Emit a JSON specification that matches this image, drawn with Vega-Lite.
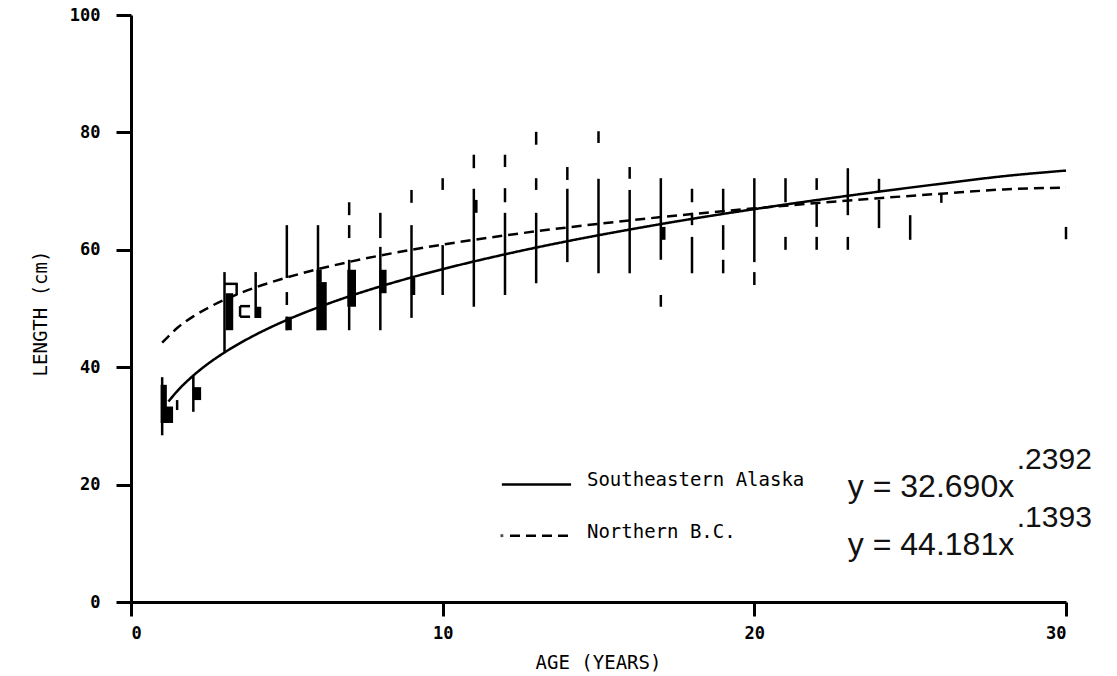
{
  "$schema": "https://vega.github.io/schema/vega-lite/v6.json",
  "width": 935,
  "height": 587,
  "autosize": "none",
  "padding": {"left": 131, "top": 15, "right": 51, "bottom": 74},
  "background": "white",
  "config": {
    "view": {"stroke": null},
    "axis": {
      "domainColor": "black",
      "domainWidth": 3,
      "tickColor": "black",
      "tickWidth": 3,
      "grid": false,
      "labelFont": "DejaVu Sans Mono",
      "labelFontWeight": "bold",
      "labelFontSize": 17,
      "labelColor": "black",
      "titleFont": "DejaVu Sans Mono",
      "titleFontWeight": "normal",
      "titleFontSize": 19,
      "titleColor": "black"
    }
  },
  "datasets": {
    "seg": [
      {"age": 1, "lo": 28.4, "hi": 38.3},
      {"age": 1.48, "lo": 32.7, "hi": 34.4},
      {"age": 2, "lo": 32.4, "hi": 38.5},
      {"age": 3, "lo": 42.6, "hi": 56.2},
      {"age": 3.39, "lo": 52.3, "hi": 54.3},
      {"age": 3.5, "lo": 48.6, "hi": 50.4},
      {"age": 4, "lo": 48.4, "hi": 56.2},
      {"age": 5, "lo": 55.2, "hi": 64.2},
      {"age": 5, "lo": 50.6, "hi": 52.8},
      {"age": 5, "lo": 46.3, "hi": 48.6},
      {"age": 6, "lo": 46.3, "hi": 64.2},
      {"age": 7, "lo": 65.9, "hi": 68.1},
      {"age": 7, "lo": 62.0, "hi": 64.2},
      {"age": 7, "lo": 46.3, "hi": 58.3},
      {"age": 8, "lo": 62.0, "hi": 66.3},
      {"age": 8, "lo": 46.3, "hi": 60.5},
      {"age": 9, "lo": 68.0, "hi": 70.2},
      {"age": 9, "lo": 48.4, "hi": 64.2},
      {"age": 10, "lo": 70.2, "hi": 72.2},
      {"age": 10, "lo": 52.3, "hi": 60.8},
      {"age": 11, "lo": 73.9, "hi": 76.2},
      {"age": 11, "lo": 50.3, "hi": 70.4},
      {"age": 12, "lo": 74.1, "hi": 76.2},
      {"age": 12, "lo": 68.1, "hi": 70.5},
      {"age": 12, "lo": 52.3, "hi": 66.3},
      {"age": 13, "lo": 77.9, "hi": 80.1},
      {"age": 13, "lo": 70.2, "hi": 72.2},
      {"age": 13, "lo": 54.3, "hi": 66.3},
      {"age": 14, "lo": 71.9, "hi": 74.1},
      {"age": 14, "lo": 57.9, "hi": 70.4},
      {"age": 15, "lo": 78.2, "hi": 80.2},
      {"age": 15, "lo": 56.0, "hi": 72.1},
      {"age": 16, "lo": 72.1, "hi": 74.1},
      {"age": 16, "lo": 56.0, "hi": 70.2},
      {"age": 17, "lo": 58.3, "hi": 72.2},
      {"age": 17, "lo": 50.3, "hi": 52.3},
      {"age": 18, "lo": 68.1, "hi": 70.4},
      {"age": 18, "lo": 64.2, "hi": 66.3},
      {"age": 18, "lo": 56.0, "hi": 62.2},
      {"age": 19, "lo": 66.3, "hi": 70.4},
      {"age": 19, "lo": 60.0, "hi": 64.2},
      {"age": 19, "lo": 56.0, "hi": 58.3},
      {"age": 20, "lo": 57.9, "hi": 72.2},
      {"age": 20, "lo": 54.0, "hi": 56.2},
      {"age": 21, "lo": 68.1, "hi": 72.2},
      {"age": 21, "lo": 60.0, "hi": 62.2},
      {"age": 22, "lo": 70.2, "hi": 72.2},
      {"age": 22, "lo": 63.9, "hi": 68.1},
      {"age": 22, "lo": 60.0, "hi": 62.2},
      {"age": 23, "lo": 65.9, "hi": 73.9},
      {"age": 23, "lo": 60.0, "hi": 62.2},
      {"age": 24, "lo": 69.8, "hi": 72.1},
      {"age": 24, "lo": 63.7, "hi": 68.5},
      {"age": 25, "lo": 61.7, "hi": 65.9},
      {"age": 26, "lo": 68.0, "hi": 69.7},
      {"age": 30, "lo": 61.8, "hi": 63.9}
    ],
    "hseg": [
      {"x1": 3.0, "x2": 3.42, "y": 54.2},
      {"x1": 3.5, "x2": 3.82, "y": 50.4},
      {"x1": 3.5, "x2": 3.82, "y": 48.6}
    ],
    "blob": [
      {"x1": 0.95, "x2": 1.15, "lo": 30.5, "hi": 37.0},
      {"x1": 1.1, "x2": 1.35, "lo": 30.5, "hi": 33.3},
      {"x1": 1.98, "x2": 2.25, "lo": 34.4, "hi": 36.6},
      {"x1": 3.04, "x2": 3.28, "lo": 46.3, "hi": 52.6},
      {"x1": 3.98, "x2": 4.18, "lo": 48.4, "hi": 50.3},
      {"x1": 4.96, "x2": 5.16, "lo": 46.3, "hi": 48.6},
      {"x1": 5.95, "x2": 6.28, "lo": 46.3, "hi": 54.5},
      {"x1": 5.95, "x2": 6.12, "lo": 54.5, "hi": 56.6},
      {"x1": 6.94, "x2": 7.22, "lo": 50.3, "hi": 56.6},
      {"x1": 7.97, "x2": 8.2, "lo": 52.6, "hi": 56.6},
      {"x1": 8.98, "x2": 9.12, "lo": 52.3, "hi": 55.2},
      {"x1": 11.0, "x2": 11.12, "lo": 66.3, "hi": 68.5},
      {"x1": 17.0, "x2": 17.15, "lo": 61.7, "hi": 63.9}
    ],
    "curve": [
      {"series": "Southeastern Alaska", "style": "solid", "age": 1.2, "len": 34.15},
      {"series": "Southeastern Alaska", "style": "solid", "age": 1.5, "len": 36.02},
      {"series": "Southeastern Alaska", "style": "solid", "age": 2, "len": 38.58},
      {"series": "Southeastern Alaska", "style": "solid", "age": 2.5, "len": 40.70},
      {"series": "Southeastern Alaska", "style": "solid", "age": 3, "len": 42.51},
      {"series": "Southeastern Alaska", "style": "solid", "age": 4, "len": 45.54},
      {"series": "Southeastern Alaska", "style": "solid", "age": 5, "len": 48.04},
      {"series": "Southeastern Alaska", "style": "solid", "age": 6, "len": 50.18},
      {"series": "Southeastern Alaska", "style": "solid", "age": 7, "len": 52.07},
      {"series": "Southeastern Alaska", "style": "solid", "age": 8, "len": 53.76},
      {"series": "Southeastern Alaska", "style": "solid", "age": 9, "len": 55.29},
      {"series": "Southeastern Alaska", "style": "solid", "age": 10, "len": 56.70},
      {"series": "Southeastern Alaska", "style": "solid", "age": 12, "len": 59.23},
      {"series": "Southeastern Alaska", "style": "solid", "age": 14, "len": 61.46},
      {"series": "Southeastern Alaska", "style": "solid", "age": 16, "len": 63.45},
      {"series": "Southeastern Alaska", "style": "solid", "age": 18, "len": 65.27},
      {"series": "Southeastern Alaska", "style": "solid", "age": 20, "len": 66.93},
      {"series": "Southeastern Alaska", "style": "solid", "age": 22, "len": 68.47},
      {"series": "Southeastern Alaska", "style": "solid", "age": 24, "len": 69.91},
      {"series": "Southeastern Alaska", "style": "solid", "age": 26, "len": 71.26},
      {"series": "Southeastern Alaska", "style": "solid", "age": 28, "len": 72.54},
      {"series": "Southeastern Alaska", "style": "solid", "age": 30, "len": 73.5},
      {"series": "Northern B.C.", "style": "dashed", "age": 1, "len": 44.18},
      {"series": "Northern B.C.", "style": "dashed", "age": 1.5, "len": 46.75},
      {"series": "Northern B.C.", "style": "dashed", "age": 2, "len": 48.66},
      {"series": "Northern B.C.", "style": "dashed", "age": 2.5, "len": 50.19},
      {"series": "Northern B.C.", "style": "dashed", "age": 3, "len": 51.49},
      {"series": "Northern B.C.", "style": "dashed", "age": 4, "len": 53.59},
      {"series": "Northern B.C.", "style": "dashed", "age": 5, "len": 55.28},
      {"series": "Northern B.C.", "style": "dashed", "age": 6, "len": 56.71},
      {"series": "Northern B.C.", "style": "dashed", "age": 7, "len": 57.94},
      {"series": "Northern B.C.", "style": "dashed", "age": 8, "len": 59.03},
      {"series": "Northern B.C.", "style": "dashed", "age": 9, "len": 60.00},
      {"series": "Northern B.C.", "style": "dashed", "age": 10, "len": 60.89},
      {"series": "Northern B.C.", "style": "dashed", "age": 12, "len": 62.45},
      {"series": "Northern B.C.", "style": "dashed", "age": 14, "len": 63.81},
      {"series": "Northern B.C.", "style": "dashed", "age": 16, "len": 65.01},
      {"series": "Northern B.C.", "style": "dashed", "age": 18, "len": 66.09},
      {"series": "Northern B.C.", "style": "dashed", "age": 20, "len": 67.06},
      {"series": "Northern B.C.", "style": "dashed", "age": 22, "len": 67.96},
      {"series": "Northern B.C.", "style": "dashed", "age": 24, "len": 68.79},
      {"series": "Northern B.C.", "style": "dashed", "age": 26, "len": 69.56},
      {"series": "Northern B.C.", "style": "dashed", "age": 28, "len": 70.28},
      {"series": "Northern B.C.", "style": "dashed", "age": 30, "len": 70.6}
    ],
    "keyline": [
      {"style": "solid", "x1": 11.9, "x2": 14.12, "y": 20.0},
      {"style": "dashed", "x1": 12.16, "x2": 14.12, "y": 11.3}
    ],
    "keydot": [
      {"x": 11.9, "y": 11.3}
    ],
    "keytext": [
      {"x": 14.63, "y": 20.7, "text": "Southeastern Alaska"},
      {"x": 14.63, "y": 12.0, "text": "Northern B.C."}
    ],
    "eqmain": [
      {"x": 23.0, "y": 17.9, "text": "y = 32.690x"},
      {"x": 23.0, "y": 8.0, "text": "y = 44.181x"}
    ],
    "eqsup": [
      {"x": 28.42, "y": 22.7, "text": ".2392"},
      {"x": 28.42, "y": 12.8, "text": ".1393"}
    ]
  },
  "layer": [
    {
      "data": {"name": "seg"},
      "mark": {"type": "rule", "color": "black", "strokeWidth": 2.5},
      "encoding": {
        "x": {
          "field": "age", "type": "quantitative", "title": "AGE (YEARS)",
          "scale": {"domain": [0, 30], "nice": false, "zero": false},
          "axis": {"values": [0, 10, 20, 30], "format": "d", "tickSize": 14, "labelPadding": 9, "titleX": 467, "titleY": 60, "titleBaseline": "middle"}
        },
        "y": {
          "field": "lo", "type": "quantitative", "title": "LENGTH (cm)",
          "scale": {"domain": [0, 100], "nice": false},
          "axis": {"values": [0, 20, 40, 60, 80, 100], "format": "d", "tickSize": 15, "labelPadding": 16, "titleX": -91, "titleY": 298, "titleBaseline": "middle", "titleAngle": -90}
        },
        "y2": {"field": "hi"}
      }
    },
    {
      "data": {"name": "hseg"},
      "mark": {"type": "rule", "color": "black", "strokeWidth": 2.5},
      "encoding": {
        "x": {"field": "x1", "type": "quantitative", "title": "AGE (YEARS)", "scale": {"domain": [0, 30], "nice": false, "zero": false}, "axis": {"values": [0, 10, 20, 30], "format": "d", "tickSize": 14, "labelPadding": 9, "titleX": 467, "titleY": 60, "titleBaseline": "middle"}},
        "x2": {"field": "x2"},
        "y": {"field": "y", "type": "quantitative", "title": "LENGTH (cm)", "scale": {"domain": [0, 100], "nice": false}, "axis": {"values": [0, 20, 40, 60, 80, 100], "format": "d", "tickSize": 15, "labelPadding": 16, "titleX": -91, "titleY": 298, "titleBaseline": "middle", "titleAngle": -90}}
      }
    },
    {
      "data": {"name": "blob"},
      "mark": {"type": "rect", "color": "black"},
      "encoding": {
        "x": {"field": "x1", "type": "quantitative", "title": "AGE (YEARS)", "scale": {"domain": [0, 30], "nice": false, "zero": false}, "axis": {"values": [0, 10, 20, 30], "format": "d", "tickSize": 14, "labelPadding": 9, "titleX": 467, "titleY": 60, "titleBaseline": "middle"}},
        "x2": {"field": "x2"},
        "y": {"field": "lo", "type": "quantitative", "title": "LENGTH (cm)", "scale": {"domain": [0, 100], "nice": false}, "axis": {"values": [0, 20, 40, 60, 80, 100], "format": "d", "tickSize": 15, "labelPadding": 16, "titleX": -91, "titleY": 298, "titleBaseline": "middle", "titleAngle": -90}},
        "y2": {"field": "hi"}
      }
    },
    {
      "data": {"name": "curve"},
      "mark": {"type": "line", "color": "black", "strokeWidth": 2.5, "interpolate": "monotone"},
      "encoding": {
        "x": {"field": "age", "type": "quantitative", "title": "AGE (YEARS)", "scale": {"domain": [0, 30], "nice": false, "zero": false}, "axis": {"values": [0, 10, 20, 30], "format": "d", "tickSize": 14, "labelPadding": 9, "titleX": 467, "titleY": 60, "titleBaseline": "middle"}},
        "y": {"field": "len", "type": "quantitative", "title": "LENGTH (cm)", "scale": {"domain": [0, 100], "nice": false}, "axis": {"values": [0, 20, 40, 60, 80, 100], "format": "d", "tickSize": 15, "labelPadding": 16, "titleX": -91, "titleY": 298, "titleBaseline": "middle", "titleAngle": -90}},
        "detail": {"field": "series"},
        "strokeDash": {"field": "style", "type": "nominal", "scale": {"domain": ["solid", "dashed"], "range": [[1, 0], [10, 6]]}, "legend": null}
      }
    },
    {
      "data": {"name": "keyline"},
      "mark": {"type": "rule", "color": "black", "strokeWidth": 2.5},
      "encoding": {
        "x": {"field": "x1", "type": "quantitative", "title": "AGE (YEARS)", "scale": {"domain": [0, 30], "nice": false, "zero": false}, "axis": {"values": [0, 10, 20, 30], "format": "d", "tickSize": 14, "labelPadding": 9, "titleX": 467, "titleY": 60, "titleBaseline": "middle"}},
        "x2": {"field": "x2"},
        "y": {"field": "y", "type": "quantitative", "title": "LENGTH (cm)", "scale": {"domain": [0, 100], "nice": false}, "axis": {"values": [0, 20, 40, 60, 80, 100], "format": "d", "tickSize": 15, "labelPadding": 16, "titleX": -91, "titleY": 298, "titleBaseline": "middle", "titleAngle": -90}},
        "strokeDash": {"field": "style", "type": "nominal", "scale": {"domain": ["solid", "dashed"], "range": [[1, 0], [10, 6]]}, "legend": null}
      }
    },
    {
      "data": {"name": "keydot"},
      "mark": {"type": "square", "color": "black", "filled": true, "size": 8},
      "encoding": {
        "x": {"field": "x", "type": "quantitative", "title": "AGE (YEARS)", "scale": {"domain": [0, 30], "nice": false, "zero": false}, "axis": {"values": [0, 10, 20, 30], "format": "d", "tickSize": 14, "labelPadding": 9, "titleX": 467, "titleY": 60, "titleBaseline": "middle"}},
        "y": {"field": "y", "type": "quantitative", "title": "LENGTH (cm)", "scale": {"domain": [0, 100], "nice": false}, "axis": {"values": [0, 20, 40, 60, 80, 100], "format": "d", "tickSize": 15, "labelPadding": 16, "titleX": -91, "titleY": 298, "titleBaseline": "middle", "titleAngle": -90}}
      }
    },
    {
      "data": {"name": "keytext"},
      "mark": {"type": "text", "align": "left", "baseline": "middle", "font": "DejaVu Sans Mono", "fontSize": 19, "color": "black"},
      "encoding": {
        "x": {"field": "x", "type": "quantitative", "title": "AGE (YEARS)", "scale": {"domain": [0, 30], "nice": false, "zero": false}, "axis": {"values": [0, 10, 20, 30], "format": "d", "tickSize": 14, "labelPadding": 9, "titleX": 467, "titleY": 60, "titleBaseline": "middle"}},
        "y": {"field": "y", "type": "quantitative", "title": "LENGTH (cm)", "scale": {"domain": [0, 100], "nice": false}, "axis": {"values": [0, 20, 40, 60, 80, 100], "format": "d", "tickSize": 15, "labelPadding": 16, "titleX": -91, "titleY": 298, "titleBaseline": "middle", "titleAngle": -90}},
        "text": {"field": "text"}
      }
    },
    {
      "data": {"name": "eqmain"},
      "mark": {"type": "text", "align": "left", "baseline": "alphabetic", "font": "Liberation Sans", "fontSize": 32, "color": "#111111"},
      "encoding": {
        "x": {"field": "x", "type": "quantitative", "title": "AGE (YEARS)", "scale": {"domain": [0, 30], "nice": false, "zero": false}, "axis": {"values": [0, 10, 20, 30], "format": "d", "tickSize": 14, "labelPadding": 9, "titleX": 467, "titleY": 60, "titleBaseline": "middle"}},
        "y": {"field": "y", "type": "quantitative", "title": "LENGTH (cm)", "scale": {"domain": [0, 100], "nice": false}, "axis": {"values": [0, 20, 40, 60, 80, 100], "format": "d", "tickSize": 15, "labelPadding": 16, "titleX": -91, "titleY": 298, "titleBaseline": "middle", "titleAngle": -90}},
        "text": {"field": "text"}
      }
    },
    {
      "data": {"name": "eqsup"},
      "mark": {"type": "text", "align": "left", "baseline": "alphabetic", "font": "Liberation Sans", "fontSize": 30, "color": "#111111"},
      "encoding": {
        "x": {"field": "x", "type": "quantitative", "title": "AGE (YEARS)", "scale": {"domain": [0, 30], "nice": false, "zero": false}, "axis": {"values": [0, 10, 20, 30], "format": "d", "tickSize": 14, "labelPadding": 9, "titleX": 467, "titleY": 60, "titleBaseline": "middle"}},
        "y": {"field": "y", "type": "quantitative", "title": "LENGTH (cm)", "scale": {"domain": [0, 100], "nice": false}, "axis": {"values": [0, 20, 40, 60, 80, 100], "format": "d", "tickSize": 15, "labelPadding": 16, "titleX": -91, "titleY": 298, "titleBaseline": "middle", "titleAngle": -90}},
        "text": {"field": "text"}
      }
    }
  ]
}
